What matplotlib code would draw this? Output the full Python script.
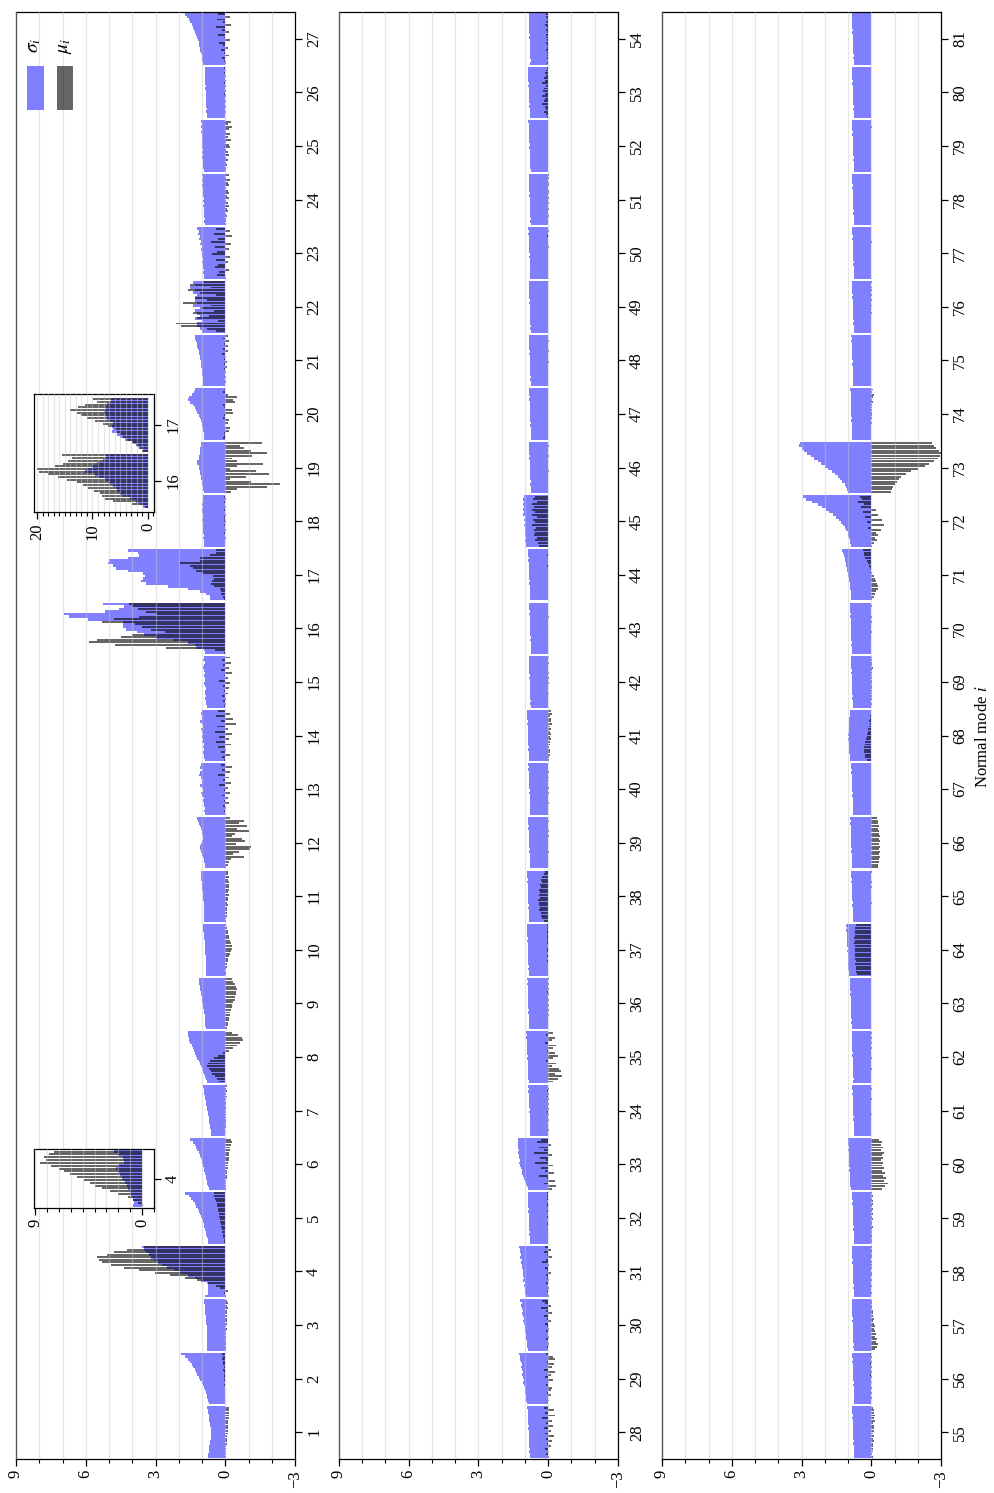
import matplotlib
matplotlib.use("Agg")
import matplotlib.pyplot as plt
from matplotlib.patches import Rectangle
import numpy as np

plt.rcParams['font.family'] = ['Liberation Serif', 'DejaVu Serif']
plt.rcParams['mathtext.fontset'] = 'stix'

# ---------------- data (each mode: 20 samples, listed top -> bottom of the group) ----------------
MODES_P1 = list(range(1, 28))
MODES_P2 = list(range(28, 55))
MODES_P3 = list(range(55, 82))

SIGMA_P1 = [
 [0.78,0.76,0.74,0.72,0.70,0.68,0.66,0.64,0.62,0.60,0.60,0.61,0.63,0.65,0.67,0.69,0.70,0.72,0.73,0.74],
 [1.90,1.75,1.62,1.52,1.45,1.38,1.32,1.26,1.20,1.14,1.08,1.02,0.97,0.92,0.88,0.84,0.80,0.77,0.74,0.72],
 [0.92,0.90,0.88,0.87,0.86,0.85,0.84,0.83,0.82,0.81,0.80,0.80,0.79,0.79,0.78,0.78,0.77,0.77,0.78,0.78],
 [3.57,3.50,3.40,3.30,3.20,3.07,2.90,2.70,2.50,2.20,1.95,1.60,1.30,1.04,0.80,0.76,0.73,0.75,0.73,0.85],
 [1.75,1.55,1.46,1.38,1.30,1.24,1.18,1.12,1.08,1.04,1.00,0.96,0.93,0.90,0.87,0.84,0.81,0.78,0.76,0.75],
 [1.53,1.40,1.31,1.25,1.20,1.15,1.10,1.06,1.02,0.98,0.95,0.93,0.90,0.87,0.84,0.81,0.80,0.78,0.75,0.71],
 [0.95,0.93,0.91,0.90,0.88,0.86,0.84,0.82,0.80,0.78,0.76,0.74,0.72,0.70,0.68,0.66,0.65,0.63,0.62,0.60],
 [1.62,1.60,1.58,1.55,1.50,1.45,1.40,1.35,1.30,1.25,1.20,1.15,1.10,1.05,1.00,0.96,0.92,0.88,0.84,0.80],
 [1.15,1.14,1.12,1.10,1.08,1.06,1.04,1.02,1.00,0.98,0.96,0.94,0.92,0.90,0.89,0.88,0.87,0.86,0.85,0.84],
 [0.95,0.96,0.94,0.93,0.92,0.90,0.89,0.88,0.87,0.86,0.85,0.85,0.84,0.84,0.83,0.83,0.82,0.82,0.82,0.81],
 [1.05,1.06,1.04,1.03,1.02,1.00,0.99,0.98,0.97,0.96,0.95,0.94,0.93,0.93,0.92,0.92,0.91,0.91,0.90,0.90],
 [1.20,1.18,1.15,1.10,1.05,1.00,0.98,0.96,0.95,1.00,1.05,1.08,1.10,1.05,1.00,0.96,0.93,0.90,0.88,0.85],
 [1.05,1.10,1.00,1.08,1.12,1.05,0.98,1.02,1.10,1.00,0.95,1.05,0.98,0.92,0.95,0.90,0.93,0.88,0.90,0.86],
 [1.00,1.05,0.98,1.02,1.08,1.00,0.95,1.05,1.00,0.97,1.02,0.95,1.00,0.93,0.97,0.92,0.95,0.90,0.92,0.88],
 [0.90,0.95,0.88,0.92,0.96,0.90,0.86,0.92,0.88,0.85,0.90,0.87,0.84,0.88,0.85,0.83,0.86,0.82,0.84,0.80],
 [5.24,4.36,4.58,5.19,6.92,6.70,5.91,4.40,4.40,4.40,4.26,3.80,3.51,3.00,2.26,1.62,1.30,1.24,0.90,0.85],
 [4.19,3.76,3.69,4.20,5.00,5.05,4.84,4.69,4.19,3.54,3.47,3.54,3.61,3.40,2.47,1.60,1.07,0.84,0.67,0.67],
 [0.95,0.97,0.96,0.98,0.97,0.99,0.98,0.97,0.96,0.98,0.97,0.95,0.96,0.94,0.95,0.93,0.94,0.92,0.93,0.91],
 [1.05,1.05,1.10,1.10,1.10,1.15,1.15,1.20,1.20,1.15,1.15,1.10,1.10,1.05,1.05,1.00,1.00,0.95,0.95,0.90],
 [1.30,1.35,1.45,1.55,1.60,1.50,1.40,1.30,1.25,1.20,1.15,1.10,1.05,1.00,1.00,0.95,0.95,0.90,0.90,0.90],
 [1.30,1.28,1.25,1.22,1.20,1.18,1.15,1.12,1.10,1.08,1.06,1.05,1.03,1.02,1.00,0.98,0.97,0.96,0.95,0.94],
 [1.40,1.30,1.50,1.30,1.40,1.20,1.30,1.30,1.20,1.40,1.10,1.30,1.20,1.10,1.30,1.00,1.20,1.20,1.10,1.00],
 [1.20,1.15,1.18,1.10,1.12,1.05,1.08,1.02,1.05,1.00,0.98,1.02,0.96,0.99,0.94,0.96,0.92,0.94,0.90,0.92],
 [0.98,0.97,0.99,0.96,0.98,0.95,0.97,0.94,0.96,0.93,0.95,0.92,0.94,0.91,0.93,0.90,0.92,0.89,0.90,0.88],
 [1.05,1.02,1.04,1.01,1.03,1.00,1.02,0.99,1.01,0.98,1.00,0.97,0.99,0.96,0.98,0.95,0.97,0.94,0.95,0.93],
 [0.88,0.87,0.88,0.86,0.87,0.85,0.86,0.84,0.85,0.83,0.84,0.83,0.82,0.83,0.81,0.82,0.80,0.81,0.80,0.79],
 [1.75,1.65,1.55,1.50,1.45,1.40,1.35,1.30,1.25,1.22,1.18,1.15,1.12,1.10,1.08,1.05,1.02,1.00,0.98,0.95],
]
MU_P1 = [
 [-0.15,-0.17,-0.16,-0.15,-0.14,-0.13,-0.12,-0.12,-0.11,-0.10,-0.10,-0.09,-0.08,-0.07,-0.06,-0.05,-0.05,-0.04,-0.03,-0.03],
 [0.15,0.10,0.12,0.08,0.10,0.06,0.08,0.05,0.06,0.04,0.05,0.03,0.04,0.02,0.03,0.02,0.02,0.01,0.02,0.01],
 [-0.08,-0.10,-0.09,-0.10,-0.08,-0.09,-0.07,-0.08,-0.06,-0.07,-0.05,-0.06,-0.05,-0.04,-0.05,-0.04,-0.03,-0.04,-0.03,-0.03],
 [3.50,4.23,4.80,5.10,5.50,5.45,5.30,4.90,4.37,3.69,3.04,2.36,1.75,1.22,0.75,0.38,0.24,-0.10,0.05,-0.05],
 [0.50,0.47,0.45,0.41,0.37,0.35,0.33,0.30,0.28,0.25,0.23,0.21,0.20,0.17,0.14,0.12,0.10,0.08,0.07,0.04],
 [-0.25,-0.27,-0.24,-0.22,-0.20,-0.18,-0.17,-0.15,-0.14,-0.12,-0.11,-0.10,-0.09,-0.08,-0.07,-0.06,-0.05,-0.05,-0.04,-0.03],
 [-0.06,-0.05,-0.07,-0.05,-0.06,-0.04,-0.05,-0.04,-0.05,-0.03,-0.04,-0.03,-0.03,-0.02,-0.03,-0.02,-0.02,-0.01,-0.02,-0.01],
 [-0.30,-0.55,-0.70,-0.75,-0.65,-0.50,-0.35,-0.15,0.10,0.30,0.50,0.65,0.75,0.80,0.70,0.60,0.55,0.45,0.35,0.25],
 [-0.30,-0.35,-0.40,-0.45,-0.50,-0.48,-0.45,-0.42,-0.40,-0.35,-0.30,-0.28,-0.25,-0.22,-0.20,-0.18,-0.15,-0.12,-0.10,-0.08],
 [-0.05,-0.08,-0.10,-0.12,-0.15,-0.18,-0.20,-0.25,-0.30,-0.28,-0.25,-0.20,-0.15,-0.12,-0.10,-0.08,-0.06,-0.05,-0.04,-0.03],
 [-0.10,-0.12,-0.15,-0.13,-0.16,-0.14,-0.18,-0.15,-0.12,-0.14,-0.10,-0.12,-0.09,-0.10,-0.08,-0.07,-0.08,-0.06,-0.05,-0.05],
 [-0.20,-0.80,-0.60,-0.95,-0.50,-1.00,-0.40,-0.30,-0.70,-0.85,-0.45,-1.10,-1.05,-0.60,-0.35,-0.80,-0.25,-0.15,-0.10,-0.05],
 [0.20,-0.30,0.15,-0.20,0.30,-0.15,0.10,-0.25,0.25,-0.10,0.05,-0.20,0.15,-0.10,0.05,-0.15,0.10,-0.05,0.05,-0.05],
 [0.30,-0.20,0.40,-0.35,0.20,-0.45,0.35,-0.10,0.45,-0.30,0.25,-0.15,0.40,-0.25,0.30,-0.05,0.20,-0.20,0.15,0.05],
 [-0.20,0.15,-0.25,0.10,-0.15,0.20,-0.30,0.05,-0.10,0.25,-0.20,0.10,-0.15,0.05,-0.10,0.15,-0.05,0.10,-0.05,0.05],
 [4.12,4.00,3.76,3.43,3.00,3.69,4.80,5.31,3.90,3.60,3.18,2.60,4.00,4.50,5.53,5.87,4.76,2.53,0.45,0.06],
 [0.38,0.38,0.67,1.10,1.10,1.96,1.53,1.40,1.24,0.97,0.54,0.47,0.57,0.62,0.47,0.24,0.17,0.17,0.10,0.06],
 [0.05,-0.03,0.06,0.02,-0.04,0.05,0.03,-0.02,0.06,0.04,-0.03,0.05,0.02,-0.02,0.04,0.03,-0.02,0.03,0.02,-0.01],
 [-1.60,-0.65,-0.80,-1.10,-1.78,-1.13,-0.30,-0.50,-1.63,-0.52,-0.20,-1.34,-1.89,-0.90,-0.20,-1.10,-2.35,-1.80,-0.50,-0.23],
 [0.05,0.10,-0.10,-0.50,-0.35,-0.40,0.10,0.05,-0.30,-0.35,0.05,0.10,-0.15,-0.10,0.00,-0.20,-0.15,0.05,0.05,0.10],
 [-0.10,0.10,-0.15,0.05,-0.12,0.08,-0.10,0.12,-0.05,0.06,-0.08,0.05,-0.06,0.04,-0.05,0.03,-0.04,0.03,-0.02,0.02],
 [0.90,1.50,0.60,1.60,1.10,0.40,1.30,0.80,1.80,0.60,1.00,0.50,1.40,0.70,1.20,0.30,2.10,1.90,0.80,0.40],
 [0.40,-0.20,0.50,-0.30,0.30,0.60,-0.25,0.45,-0.15,0.35,0.55,-0.20,0.40,-0.10,0.30,0.45,-0.15,0.25,0.35,-0.05],
 [-0.15,-0.05,-0.20,-0.10,-0.15,-0.05,-0.12,-0.18,-0.08,-0.15,-0.05,-0.10,-0.15,-0.06,-0.10,-0.04,-0.08,-0.03,-0.05,-0.02],
 [-0.25,-0.10,-0.30,-0.15,-0.05,-0.20,-0.10,-0.25,-0.05,-0.15,-0.20,-0.05,-0.10,-0.15,-0.05,-0.10,-0.05,-0.08,-0.03,-0.05],
 [0.05,-0.03,0.04,-0.05,0.03,-0.02,0.05,-0.04,0.02,-0.03,0.04,-0.02,0.03,-0.04,0.02,-0.02,0.03,-0.03,0.02,-0.01],
 [0.30,-0.20,0.35,0.10,-0.25,0.40,0.15,-0.15,0.30,0.05,-0.20,0.25,0.10,-0.10,0.20,0.05,-0.15,0.15,0.05,-0.05],
]

SIGMA_P2 = [
 [0.90,0.88,0.89,0.86,0.87,0.85,0.86,0.84,0.85,0.83,0.84,0.82,0.83,0.82,0.81,0.82,0.80,0.81,0.80,0.80],
 [1.25,1.20,1.22,1.18,1.15,1.17,1.12,1.10,1.12,1.08,1.05,1.07,1.03,1.00,1.02,0.98,0.96,0.97,0.94,0.92],
 [1.20,1.15,1.18,1.12,1.10,1.13,1.08,1.05,1.07,1.03,1.00,1.02,0.98,0.96,0.97,0.94,0.92,0.93,0.90,0.88],
 [1.25,1.22,1.20,1.18,1.20,1.15,1.17,1.12,1.14,1.10,1.08,1.10,1.05,1.07,1.02,1.03,1.00,0.98,0.99,0.96],
 [0.88,0.87,0.86,0.87,0.85,0.86,0.84,0.85,0.83,0.84,0.83,0.82,0.83,0.81,0.82,0.80,0.81,0.80,0.79,0.80],
 [1.30,1.32,1.28,1.30,1.27,1.29,1.25,1.27,1.22,1.24,1.20,1.18,1.15,1.12,1.08,1.05,1.00,0.96,0.92,0.88],
 [0.85,0.84,0.85,0.83,0.84,0.82,0.83,0.81,0.82,0.80,0.81,0.80,0.79,0.80,0.78,0.79,0.78,0.77,0.78,0.77],
 [0.95,0.93,0.94,0.92,0.93,0.91,0.92,0.90,0.91,0.89,0.90,0.88,0.89,0.87,0.88,0.86,0.87,0.85,0.86,0.84],
 [0.90,0.89,0.90,0.88,0.89,0.87,0.88,0.86,0.87,0.85,0.86,0.85,0.84,0.85,0.83,0.84,0.82,0.83,0.82,0.81],
 [0.92,0.91,0.92,0.90,0.91,0.89,0.90,0.88,0.89,0.87,0.88,0.86,0.87,0.86,0.85,0.86,0.84,0.85,0.84,0.83],
 [0.92,0.90,0.91,0.89,0.90,0.88,0.89,0.87,0.88,0.86,0.87,0.85,0.86,0.84,0.85,0.84,0.83,0.84,0.82,0.83],
 [0.86,0.85,0.86,0.84,0.85,0.83,0.84,0.82,0.83,0.82,0.81,0.82,0.80,0.81,0.80,0.79,0.80,0.78,0.79,0.78],
 [0.85,0.84,0.85,0.83,0.84,0.82,0.83,0.82,0.81,0.82,0.80,0.81,0.80,0.79,0.80,0.78,0.79,0.78,0.77,0.78],
 [0.92,0.91,0.90,0.91,0.89,0.90,0.88,0.89,0.87,0.88,0.86,0.87,0.85,0.86,0.84,0.85,0.84,0.83,0.84,0.82],
 [0.84,0.83,0.84,0.82,0.83,0.81,0.82,0.80,0.81,0.80,0.79,0.80,0.78,0.79,0.78,0.77,0.78,0.76,0.77,0.76],
 [0.82,0.81,0.82,0.80,0.81,0.80,0.79,0.80,0.78,0.79,0.78,0.77,0.78,0.76,0.77,0.76,0.75,0.76,0.75,0.74],
 [0.86,0.85,0.86,0.84,0.85,0.83,0.84,0.83,0.82,0.83,0.81,0.82,0.80,0.81,0.80,0.79,0.80,0.78,0.79,0.78],
 [1.05,1.08,1.04,1.10,1.06,1.09,1.03,1.07,1.02,1.05,1.00,1.04,0.99,1.02,0.98,1.00,0.97,0.99,0.96,0.95],
 [0.83,0.82,0.83,0.81,0.82,0.80,0.81,0.80,0.79,0.80,0.78,0.79,0.78,0.77,0.78,0.76,0.77,0.76,0.75,0.76],
 [0.82,0.81,0.82,0.80,0.81,0.79,0.80,0.79,0.78,0.79,0.77,0.78,0.77,0.76,0.77,0.75,0.76,0.75,0.74,0.75],
 [0.84,0.83,0.82,0.83,0.81,0.82,0.80,0.81,0.80,0.79,0.80,0.78,0.79,0.78,0.77,0.78,0.76,0.77,0.76,0.75],
 [0.83,0.84,0.82,0.83,0.81,0.82,0.81,0.80,0.81,0.79,0.80,0.78,0.79,0.78,0.77,0.78,0.77,0.76,0.77,0.75],
 [0.85,0.84,0.85,0.83,0.84,0.82,0.83,0.81,0.82,0.81,0.80,0.81,0.79,0.80,0.79,0.78,0.79,0.77,0.78,0.77],
 [0.84,0.83,0.84,0.82,0.83,0.81,0.82,0.80,0.81,0.80,0.79,0.80,0.78,0.79,0.78,0.77,0.78,0.76,0.77,0.76],
 [0.85,0.84,0.83,0.84,0.82,0.83,0.81,0.82,0.81,0.80,0.81,0.79,0.80,0.79,0.78,0.79,0.77,0.78,0.77,0.76],
 [0.88,0.87,0.86,0.87,0.85,0.86,0.84,0.85,0.83,0.84,0.82,0.83,0.81,0.82,0.80,0.81,0.80,0.79,0.80,0.78],
 [0.84,0.83,0.84,0.82,0.83,0.81,0.82,0.81,0.80,0.81,0.79,0.80,0.79,0.78,0.79,0.77,0.78,0.77,0.76,0.77],
]
MU_P2 = [
 [0.20,-0.25,0.15,-0.30,0.25,-0.15,0.10,-0.20,0.20,-0.10,0.15,-0.25,0.10,-0.15,0.05,-0.10,0.15,-0.05,0.10,-0.05],
 [0.10,-0.20,-0.30,0.05,-0.25,-0.15,0.20,-0.30,-0.10,0.15,-0.20,-0.05,0.10,-0.15,-0.10,0.05,-0.10,0.02,-0.05,0.03],
 [0.25,0.15,-0.10,0.30,0.10,-0.15,0.20,0.05,-0.10,0.15,0.05,-0.05,0.10,0.02,-0.05,0.08,0.03,-0.03,0.04,0.01],
 [0.15,-0.10,0.20,0.05,-0.15,0.10,0.25,-0.05,0.15,0.05,-0.10,0.10,0.05,-0.05,0.08,0.02,-0.03,0.05,0.02,-0.02],
 [0.05,0.04,0.06,0.03,0.05,0.04,0.03,0.05,0.02,0.04,0.03,0.02,0.04,0.02,0.03,0.01,0.02,0.01,0.02,0.01],
 [0.30,0.50,-0.10,0.40,0.20,0.60,-0.15,0.35,0.10,0.55,-0.20,0.30,0.15,-0.25,0.40,0.05,-0.30,0.20,-0.35,-0.15],
 [0.03,-0.04,0.05,-0.02,0.04,-0.03,0.02,-0.04,0.03,-0.02,0.04,-0.03,0.02,-0.02,0.03,-0.01,0.02,-0.02,0.01,-0.01],
 [-0.20,0.10,-0.30,-0.15,0.15,-0.35,-0.20,0.05,-0.30,-0.40,-0.20,0.10,-0.35,-0.15,-0.45,-0.55,-0.30,-0.60,-0.40,-0.20],
 [-0.03,0.02,-0.04,0.03,-0.02,0.04,-0.03,0.02,-0.02,0.03,-0.04,0.02,-0.03,0.01,-0.02,0.02,-0.01,0.02,-0.01,0.01],
 [0.06,0.05,0.07,0.04,0.06,0.05,0.04,0.06,0.03,0.05,0.04,0.03,0.05,0.03,0.04,0.02,0.03,0.02,0.03,0.02],
 [0.15,0.20,0.25,0.30,0.28,0.35,0.32,0.38,0.35,0.40,0.37,0.42,0.38,0.40,0.35,0.38,0.30,0.32,0.25,0.20],
 [0.02,-0.02,0.03,-0.01,0.02,-0.02,0.01,-0.02,0.02,-0.01,0.02,-0.01,0.01,-0.02,0.01,-0.01,0.01,-0.01,0.01,0.00],
 [0.02,-0.01,0.03,-0.02,0.01,-0.03,0.02,-0.01,0.03,-0.02,0.01,-0.02,0.02,-0.01,0.01,-0.02,0.01,-0.01,0.02,0.00],
 [-0.10,-0.15,-0.08,-0.12,-0.10,-0.14,-0.07,-0.11,-0.09,-0.12,-0.06,-0.10,-0.08,-0.09,-0.05,-0.08,-0.06,-0.07,-0.04,-0.05],
 [-0.02,0.01,-0.03,0.02,-0.01,0.02,-0.02,0.01,-0.03,0.01,-0.02,0.02,-0.01,0.01,-0.02,0.01,-0.01,0.01,-0.01,0.00],
 [0.01,0.02,-0.01,0.02,0.01,-0.02,0.02,0.01,-0.01,0.02,0.00,-0.01,0.01,0.02,-0.01,0.01,0.00,-0.01,0.01,0.00],
 [0.03,0.02,0.04,0.01,0.03,0.02,0.04,0.01,0.03,0.02,0.02,0.03,0.01,0.02,0.02,0.01,0.02,0.01,0.01,0.00],
 [0.55,0.65,0.50,0.70,0.60,0.72,0.55,0.68,0.50,0.65,0.58,0.70,0.52,0.62,0.55,0.60,0.48,0.55,0.45,0.40],
 [0.02,-0.02,0.01,-0.01,0.02,-0.02,0.01,-0.01,0.02,-0.01,0.01,-0.02,0.01,-0.01,0.01,-0.01,0.01,0.00,0.01,0.00],
 [0.01,0.02,-0.01,0.01,0.02,-0.01,0.01,0.02,-0.01,0.01,0.01,-0.01,0.02,0.01,-0.01,0.01,0.01,-0.01,0.01,0.00],
 [-0.01,0.02,-0.02,0.01,-0.01,0.02,-0.02,0.01,-0.01,0.01,-0.02,0.01,-0.01,0.02,-0.01,0.01,-0.01,0.01,0.00,0.01],
 [0.02,0.01,0.03,0.01,0.02,0.00,0.02,0.01,0.02,0.00,0.01,0.02,0.00,0.01,0.01,0.00,0.01,0.01,0.00,0.01],
 [0.03,-0.02,0.02,0.04,-0.01,0.03,0.02,-0.02,0.03,0.01,-0.01,0.02,0.03,-0.01,0.02,0.01,-0.01,0.02,0.01,0.00],
 [-0.02,-0.03,-0.01,-0.02,-0.03,-0.01,-0.02,-0.02,-0.01,-0.03,-0.01,-0.02,-0.01,-0.02,-0.01,-0.01,-0.02,-0.01,-0.01,0.00],
 [0.02,0.03,0.01,0.02,0.03,0.02,0.01,0.03,0.02,0.01,0.02,0.02,0.01,0.02,0.01,0.01,0.02,0.01,0.01,0.00],
 [0.05,0.10,0.15,0.08,0.20,0.12,0.25,0.10,0.18,0.22,0.15,0.28,0.12,0.20,0.25,0.15,0.10,0.18,0.08,0.05],
 [0.08,0.10,0.06,0.09,0.12,0.07,0.10,0.05,0.08,0.11,0.06,0.09,0.05,0.07,0.08,0.04,0.06,0.05,0.03,0.04],
]

SIGMA_P3 = [
 [0.82,0.81,0.82,0.80,0.81,0.79,0.80,0.79,0.78,0.79,0.77,0.78,0.77,0.76,0.77,0.75,0.76,0.75,0.74,0.75],
 [0.82,0.81,0.80,0.81,0.79,0.80,0.78,0.79,0.78,0.77,0.78,0.76,0.77,0.76,0.75,0.76,0.74,0.75,0.74,0.75],
 [0.84,0.83,0.84,0.82,0.83,0.81,0.82,0.80,0.81,0.80,0.79,0.80,0.78,0.79,0.78,0.77,0.78,0.76,0.77,0.76],
 [0.83,0.82,0.83,0.81,0.82,0.80,0.81,0.80,0.79,0.80,0.78,0.79,0.78,0.77,0.78,0.76,0.77,0.76,0.75,0.76],
 [0.82,0.81,0.82,0.80,0.81,0.79,0.80,0.79,0.78,0.79,0.77,0.78,0.77,0.76,0.77,0.75,0.76,0.75,0.74,0.75],
 [1.00,0.98,0.99,0.97,0.98,0.96,0.97,0.95,0.96,0.94,0.95,0.93,0.94,0.92,0.93,0.91,0.92,0.90,0.91,0.89],
 [0.82,0.81,0.80,0.81,0.79,0.80,0.79,0.78,0.79,0.77,0.78,0.77,0.76,0.77,0.75,0.76,0.75,0.74,0.75,0.74],
 [0.84,0.83,0.84,0.82,0.83,0.81,0.82,0.81,0.80,0.81,0.79,0.80,0.79,0.78,0.79,0.77,0.78,0.77,0.76,0.77],
 [0.92,0.91,0.92,0.90,0.91,0.89,0.90,0.88,0.89,0.87,0.88,0.86,0.87,0.86,0.85,0.86,0.84,0.85,0.84,0.83],
 [1.08,1.06,1.07,1.05,1.06,1.04,1.05,1.03,1.04,1.02,1.03,1.01,1.02,1.00,1.01,0.99,1.00,0.98,0.97,0.96],
 [0.86,0.85,0.86,0.84,0.85,0.83,0.84,0.82,0.83,0.82,0.81,0.82,0.80,0.81,0.80,0.79,0.80,0.78,0.79,0.78],
 [0.90,0.89,0.90,0.88,0.89,0.87,0.88,0.86,0.87,0.86,0.85,0.86,0.84,0.85,0.84,0.83,0.84,0.82,0.83,0.82],
 [0.86,0.85,0.84,0.85,0.83,0.84,0.82,0.83,0.82,0.81,0.82,0.80,0.81,0.80,0.79,0.80,0.78,0.79,0.78,0.77],
 [0.90,0.92,0.93,0.95,0.94,0.96,0.95,0.97,0.96,0.98,0.97,0.98,0.96,0.97,0.95,0.96,0.94,0.93,0.92,0.90],
 [0.87,0.86,0.87,0.85,0.86,0.84,0.85,0.83,0.84,0.83,0.82,0.83,0.81,0.82,0.81,0.80,0.81,0.79,0.80,0.79],
 [0.92,0.91,0.90,0.91,0.89,0.90,0.88,0.89,0.87,0.88,0.86,0.87,0.86,0.85,0.86,0.84,0.85,0.84,0.83,0.84],
 [1.25,1.22,1.18,1.15,1.12,1.10,1.08,1.05,1.03,1.01,0.99,0.97,0.95,0.93,0.92,0.90,0.89,0.88,0.87,0.86],
 [2.95,2.80,2.55,2.30,2.10,1.95,1.80,1.65,1.50,1.40,1.30,1.22,1.15,1.08,1.02,0.98,0.95,0.92,0.90,0.88],
 [3.05,3.10,3.00,2.90,2.75,2.60,2.45,2.30,2.15,2.00,1.85,1.70,1.55,1.45,1.35,1.25,1.15,1.10,1.05,1.00],
 [0.90,0.89,0.88,0.89,0.87,0.88,0.86,0.87,0.86,0.85,0.86,0.84,0.85,0.84,0.83,0.84,0.82,0.83,0.82,0.81],
 [0.85,0.84,0.85,0.83,0.84,0.82,0.83,0.81,0.82,0.81,0.80,0.81,0.79,0.80,0.79,0.78,0.79,0.77,0.78,0.77],
 [0.83,0.82,0.83,0.81,0.82,0.80,0.81,0.80,0.79,0.80,0.78,0.79,0.78,0.77,0.78,0.76,0.77,0.76,0.75,0.76],
 [0.82,0.81,0.82,0.80,0.81,0.79,0.80,0.79,0.78,0.79,0.77,0.78,0.77,0.76,0.77,0.75,0.76,0.75,0.74,0.75],
 [0.83,0.82,0.81,0.82,0.80,0.81,0.79,0.80,0.79,0.78,0.79,0.77,0.78,0.77,0.76,0.77,0.75,0.76,0.75,0.74],
 [0.82,0.83,0.81,0.82,0.80,0.81,0.80,0.79,0.80,0.78,0.79,0.78,0.77,0.78,0.76,0.77,0.76,0.75,0.76,0.74],
 [0.83,0.82,0.83,0.81,0.82,0.80,0.81,0.80,0.79,0.80,0.78,0.79,0.78,0.77,0.78,0.76,0.77,0.76,0.75,0.76],
 [0.84,0.83,0.82,0.83,0.81,0.82,0.80,0.81,0.80,0.79,0.80,0.78,0.79,0.78,0.77,0.78,0.76,0.77,0.76,0.75],
]
MU_P3 = [
 [-0.08,-0.12,-0.10,-0.15,-0.11,-0.14,-0.09,-0.13,-0.10,-0.12,-0.08,-0.11,-0.09,-0.10,-0.07,-0.09,-0.06,-0.08,-0.05,-0.06],
 [0.04,-0.05,0.03,-0.04,0.05,-0.03,0.02,-0.05,0.04,-0.02,0.03,-0.04,0.02,-0.03,0.03,-0.02,0.02,-0.02,0.01,-0.01],
 [-0.02,-0.03,-0.05,-0.04,-0.06,-0.08,-0.07,-0.10,-0.09,-0.12,-0.15,-0.13,-0.18,-0.20,-0.16,-0.25,-0.22,-0.30,-0.26,-0.18],
 [-0.03,-0.02,-0.04,-0.02,-0.03,-0.01,-0.03,-0.02,-0.04,-0.01,-0.02,-0.03,-0.01,-0.02,-0.01,-0.02,-0.01,-0.01,-0.02,0.00],
 [-0.05,-0.07,-0.04,-0.06,-0.08,-0.05,-0.07,-0.04,-0.06,-0.05,-0.07,-0.04,-0.05,-0.06,-0.03,-0.05,-0.04,-0.03,-0.04,-0.02],
 [-0.35,-0.45,-0.40,-0.50,-0.42,-0.55,-0.45,-0.50,-0.40,-0.52,-0.45,-0.55,-0.48,-0.60,-0.50,-0.65,-0.55,-0.70,-0.60,-0.45],
 [0.01,-0.02,0.02,-0.01,0.01,-0.02,0.02,-0.01,0.01,-0.01,0.02,-0.02,0.01,-0.01,0.01,-0.01,0.01,0.00,0.01,0.00],
 [-0.02,0.01,-0.03,0.02,-0.02,0.01,-0.03,0.02,-0.01,0.01,-0.02,0.02,-0.01,0.01,-0.02,0.01,-0.01,0.01,-0.01,0.00],
 [0.02,0.03,0.01,0.02,0.03,0.01,0.02,0.02,0.01,0.03,0.01,0.02,0.01,0.02,0.01,0.01,0.02,0.01,0.01,0.00],
 [0.65,0.70,0.68,0.72,0.70,0.74,0.71,0.73,0.70,0.72,0.69,0.71,0.68,0.70,0.67,0.69,0.66,0.67,0.64,0.62],
 [-0.02,0.02,-0.01,0.03,-0.02,0.01,-0.02,0.02,-0.01,0.02,-0.01,0.01,-0.02,0.01,-0.01,0.01,-0.01,0.01,0.00,0.01],
 [-0.25,-0.30,-0.28,-0.33,-0.30,-0.35,-0.32,-0.36,-0.33,-0.37,-0.34,-0.38,-0.35,-0.37,-0.33,-0.36,-0.32,-0.34,-0.30,-0.28],
 [0.01,0.02,-0.01,0.02,0.01,-0.01,0.02,0.01,0.00,0.02,-0.01,0.01,0.01,-0.01,0.01,0.01,0.00,0.01,0.00,0.00],
 [0.02,0.03,0.05,0.04,0.08,0.06,0.10,0.12,0.15,0.18,0.20,0.22,0.25,0.28,0.30,0.32,0.30,0.28,0.25,0.20],
 [-0.03,-0.05,-0.02,-0.04,-0.06,-0.03,-0.05,-0.02,-0.04,-0.03,-0.05,-0.02,-0.03,-0.04,-0.02,-0.03,-0.02,-0.01,-0.02,-0.01],
 [0.02,-0.02,0.03,-0.01,0.02,-0.03,0.01,-0.02,0.02,-0.01,0.01,-0.02,0.02,-0.01,0.01,-0.01,0.01,0.00,0.01,0.00],
 [0.35,0.30,0.32,0.25,0.20,0.15,0.10,0.05,0.00,-0.05,-0.10,-0.15,-0.20,-0.25,-0.30,-0.28,-0.22,-0.15,-0.10,-0.05],
 [0.50,0.40,0.55,0.30,0.45,-0.20,0.35,-0.30,0.25,-0.45,0.20,-0.55,0.15,-0.40,-0.20,-0.30,-0.15,-0.25,-0.10,-0.05],
 [-2.60,-2.70,-2.80,-2.90,-3.00,-2.95,-2.85,-2.70,-2.50,-2.30,-2.00,-1.70,-1.50,-1.30,-1.20,-1.10,-1.00,-0.95,-0.90,-0.85],
 [-0.08,-0.05,-0.10,-0.06,-0.04,-0.07,-0.03,-0.05,-0.04,-0.02,-0.03,-0.02,-0.01,-0.02,-0.01,-0.01,0.00,-0.01,0.00,0.00],
 [0.02,0.01,0.02,0.01,0.02,0.01,0.01,0.02,0.01,0.01,0.02,0.01,0.01,0.01,0.00,0.01,0.01,0.00,0.01,0.00],
 [-0.02,-0.01,-0.02,-0.03,-0.01,-0.02,-0.01,-0.02,-0.01,-0.02,-0.01,-0.01,-0.02,-0.01,-0.01,0.00,-0.01,-0.01,0.00,0.00],
 [0.01,-0.01,0.02,-0.01,0.01,-0.02,0.01,-0.01,0.01,0.00,0.01,-0.01,0.01,0.00,0.01,-0.01,0.00,0.01,0.00,0.00],
 [0.02,0.01,0.03,0.02,0.01,0.02,0.01,0.02,0.01,0.01,0.02,0.00,0.01,0.01,0.00,0.01,0.01,0.00,0.01,0.00],
 [-0.01,0.01,-0.02,0.01,-0.01,0.01,-0.01,0.02,-0.01,0.01,-0.01,0.01,0.00,-0.01,0.01,0.00,-0.01,0.00,0.01,0.00],
 [0.01,0.02,0.01,0.02,0.01,0.01,0.02,0.01,0.01,0.02,0.01,0.01,0.01,0.00,0.01,0.01,0.00,0.01,0.00,0.00],
 [0.02,-0.01,0.02,0.01,-0.01,0.02,0.01,-0.01,0.01,0.01,-0.01,0.01,0.01,0.00,0.01,-0.01,0.01,0.00,0.00,0.00],
]

# inset data (different scale): mode 4, and modes 16-17
INSET1_MODES = [4]
INSET1_SIGMA = [[2.35,2.00,1.57,1.51,1.51,2.07,2.18,2.07,1.85,1.71,1.57,1.43,1.29,1.15,1.06,0.95,0.87,0.73,0.67,0.73]]
INSET1_MU = [[7.45,7.87,8.29,8.07,8.57,7.67,7.03,6.61,6.05,5.49,4.93,4.37,3.95,3.39,2.69,1.99,1.15,0.73,0.31,-0.10]]
INSET2_MODES = [16, 17]
INSET2_SIGMA = [
 [7.57,7.57,8.05,9.25,10.15,11.05,11.35,9.55,8.95,7.75,6.97,6.37,5.95,5.50,5.05,4.45,3.25,2.18,1.45,0.80],
 [6.70,6.60,7.30,7.57,7.75,7.90,7.57,7.45,6.97,6.25,6.55,6.25,6.40,5.50,5.05,4.14,2.60,2.00,1.40,0.80],
]
INSET2_MU = [
 [15.55,13.75,14.35,15.25,16.75,19.95,19.60,17.95,16.15,14.65,12.85,11.65,10.75,9.73,8.65,8.35,7.75,6.25,2.95,0.50],
 [9.85,9.25,11.35,12.55,14.05,12.85,12.13,10.90,9.55,8.17,7.20,6.00,5.50,5.00,4.50,3.80,2.80,2.20,1.60,1.00],
]

# ---------------- styling ----------------
BLUE = '#8080ff'
N_BARS = 20
GROUP = 0.96
SLOT = GROUP / N_BARS
FS = 12


def draw_groups(ax, modes, sig, mu):
    for m, s, u in zip(modes, sig, mu):
        pos = m + GROUP / 2 - (np.arange(len(s)) + 0.5) * SLOT
        ax.barh(pos, s, height=SLOT * 1.02, color=BLUE, linewidth=0, zorder=2, antialiased=False)
        ax.barh(pos, u, height=SLOT * 0.75, color='black', alpha=0.6, linewidth=0, zorder=3)


def style_axes(ax, xlim, xmajor, xlabels, xminor, ylim, yticks):
    ax.set_xlim(*xlim)
    ax.set_ylim(*ylim)
    for v in xminor:
        ax.axvline(v, color=(0.78, 0.78, 0.78), alpha=0.45, lw=0.9, zorder=4)
    ax.set_xticks(xmajor)
    ax.set_xticklabels(xlabels, rotation=90, fontsize=FS)
    ax.set_xticks(xminor, minor=True)
    ax.yaxis.tick_right()
    ax.set_yticks(yticks)
    ax.set_yticklabels([str(t) for t in yticks], rotation=90, va='center', fontsize=FS)
    ax.tick_params(axis='x', which='major', direction='out', length=5, width=0.9, pad=3)
    ax.tick_params(axis='x', which='minor', direction='out', length=3, width=0.8)
    ax.tick_params(axis='y', which='major', direction='out', length=5, width=0.9, pad=3)
    for sp in ax.spines.values():
        sp.set_linewidth(0.9)


fig = plt.figure(figsize=(9.95, 14.93), dpi=100)

panel_lefts = [16 / 995, 339 / 995, 662 / 995]
panel_w = 279 / 995
panel_b = (1493 - 1459) / 1493
panel_h = 1447 / 1493

panels = [(MODES_P1, SIGMA_P1, MU_P1), (MODES_P2, SIGMA_P2, MU_P2), (MODES_P3, SIGMA_P3, MU_P3)]
axes = []
for left, (modes, sig, mu) in zip(panel_lefts, panels):
    ax = fig.add_axes([left, panel_b, panel_w, panel_h])
    draw_groups(ax, modes, sig, mu)
    style_axes(ax, (9, -3), [9, 6, 3, 0, -3], ['9', '6', '3', '0', '\u22123'],
               list(range(-3, 10)), (modes[0] - 0.5, modes[-1] + 0.5), modes)
    axes.append(ax)

# legend (drawn by hand so that it is rotated like the rest of the figure)
ax0 = axes[0]
ax0.add_patch(Rectangle((0.039, 0.9323), 0.061, 0.0304, transform=ax0.transAxes,
                        facecolor=BLUE, edgecolor='none', zorder=6))
ax0.add_patch(Rectangle((0.147, 0.9323), 0.058, 0.0304, transform=ax0.transAxes,
                        facecolor='black', alpha=0.6, edgecolor='none', zorder=6))
ax0.text(0.068, 0.977, r'$\sigma_i$', transform=ax0.transAxes, rotation=90,
         ha='center', va='center', fontsize=14, zorder=6)
ax0.text(0.176, 0.977, r'$\mu_i$', transform=ax0.transAxes, rotation=90,
         ha='center', va='center', fontsize=14, zorder=6)

# insets
ins1 = fig.add_axes([34 / 995, (1493 - 1208) / 1493, 120 / 995, 59 / 1493])
ins1.set_facecolor('white')
draw_groups(ins1, INSET1_MODES, INSET1_SIGMA, INSET1_MU)
style_axes(ins1, (9.1, -1.0), [9, 0], ['9', '0'], list(range(-1, 10)), (3.5, 4.5), INSET1_MODES)

ins2 = fig.add_axes([34 / 995, (1493 - 512) / 1493, 120 / 995, 118 / 1493])
ins2.set_facecolor('white')
draw_groups(ins2, INSET2_MODES, INSET2_SIGMA, INSET2_MU)
style_axes(ins2, (20.55, -1.1), [20, 10, 0], ['20', '10', '0'], list(range(-1, 21)), (15.45, 17.55), INSET2_MODES)

fig.text(983 / 995, 1 - 737 / 1493, r'Normal mode $i$', rotation=90, ha='center', va='center', fontsize=12)

fig.savefig('out.png', dpi=100)
